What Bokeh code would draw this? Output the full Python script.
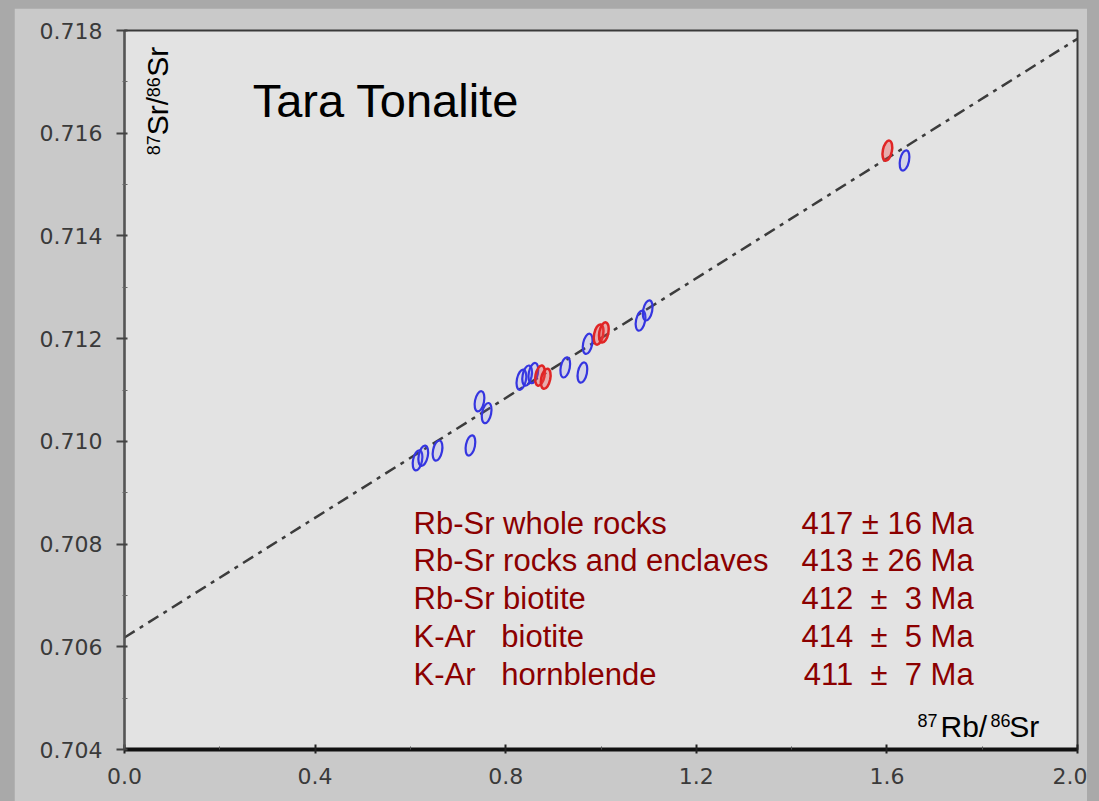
from bokeh.plotting import figure
from bokeh.models import FixedTicker, Label, NumeralTickFormatter
from bokeh.layouts import column
from bokeh.embed import file_html
from bokeh.resources import INLINE

# ---- data ----
blue_x = [0.615, 0.627, 0.657, 0.726, 0.745, 0.760, 0.833, 0.845, 0.858, 0.925, 0.961, 0.972, 1.083, 1.098, 1.637]
blue_y = [0.70963, 0.70972, 0.70982, 0.70992, 0.71078, 0.71055, 0.71120, 0.71128, 0.71133, 0.71144, 0.71134, 0.71190, 0.71235, 0.71255, 0.71547]
red_x = [0.872, 0.884, 0.995, 1.006, 1.601]
red_y = [0.71128, 0.71122, 0.71208, 0.71212, 0.71566]

iso_x = [0.0, 2.0]
iso_y = [0.70618, 0.71784]

x_ticks = [0.0, 0.4, 0.8, 1.2, 1.6, 2.0]
x_minor = [0.2, 0.6, 1.0, 1.4, 1.8]
y_ticks = [0.704, 0.706, 0.708, 0.710, 0.712, 0.714, 0.716, 0.718]
y_minor = [0.705, 0.707, 0.709, 0.711, 0.713, 0.715, 0.717]

methods = ["Rb-Sr whole rocks", "Rb-Sr rocks and enclaves", "Rb-Sr biotite", "K-Ar\u00a0\u00a0 biotite", "K-Ar\u00a0\u00a0 hornblende"]
ages = ["417 \u00b1 16 Ma", "413 \u00b1 26 Ma", "412\u00a0 \u00b1\u00a0 3 Ma", "414\u00a0 \u00b1\u00a0 5 Ma", "411\u00a0 \u00b1\u00a0 7 Ma"]
row_y = [0.70840, 0.70768, 0.70694, 0.70620, 0.70546]

title_text = "Tara Tonalite"

FONT = "Liberation Sans"
DARKRED = "#8b0000"

p = figure(width=1073, height=793, x_range=(0, 2.0), y_range=(0.704, 0.718),
           output_backend="svg", toolbar_location=None,
           min_border_left=110, min_border_right=10, min_border_top=22, min_border_bottom=52,
           background_fill_color="#e3e3e3", border_fill_color="#c9c9c9")
p.margin = (8, 12, 0, 14)
p.grid.visible = False
p.outline_line_color = "#3a3a3a"
p.outline_line_width = 2

# axes
p.xaxis.ticker = FixedTicker(ticks=x_ticks, minor_ticks=x_minor)
p.yaxis.ticker = FixedTicker(ticks=y_ticks, minor_ticks=y_minor)
p.xaxis.formatter = NumeralTickFormatter(format="0.0")
p.yaxis.formatter = NumeralTickFormatter(format="0.000")
for ax in (p.xaxis, p.yaxis):
    ax.major_label_text_font = "DejaVu Sans"
    ax.major_label_text_font_size = "22px"
    ax.major_label_text_color = "#3a3a3a"
p.xaxis.axis_line_color = "#111111"
p.xaxis.axis_line_width = 4
p.xaxis.major_tick_line_color = "#222222"
p.xaxis.major_tick_line_width = 2
p.xaxis.major_tick_in = 5
p.xaxis.major_tick_out = 4
p.xaxis.minor_tick_in = 3
p.xaxis.minor_tick_out = 0
p.xaxis.minor_tick_line_color = "#555555"
p.xaxis.major_label_standoff = 14
p.yaxis.axis_line_color = "#555555"
p.yaxis.axis_line_width = 2
p.yaxis.major_tick_line_color = "#444444"
p.yaxis.major_tick_line_width = 2
p.yaxis.major_tick_in = 3
p.yaxis.major_tick_out = 8
p.yaxis.minor_tick_in = 3
p.yaxis.minor_tick_out = 2
p.yaxis.minor_tick_line_color = "#666666"
p.yaxis.major_label_standoff = 14

# isochron
p.line(iso_x, iso_y, line_color="#3c3c3c", line_width=2.5, line_dash="12 6 4 6")

# error ellipses
p.ellipse(x=blue_x, y=blue_y, width=0.019, height=0.00040, angle=-0.2,
          line_color="#3535e0", line_width=2.2, fill_color="#7070ff", fill_alpha=0.12)
p.ellipse(x=red_x, y=red_y, width=0.019, height=0.00040, angle=-0.2,
          line_color="#e02525", line_width=2.5, fill_color="#ee4444", fill_alpha=0.35)

# title
p.add_layout(Label(x=0.269, y=0.71664, text=title_text, text_font=FONT,
                   text_font_size="47px", text_color="black", text_baseline="alphabetic"))

# age table
for m, a, yy in zip(methods, ages, row_y):
    p.add_layout(Label(x=0.6065, y=yy, text=m, text_font=FONT, text_font_size="31px",
                       text_color=DARKRED, text_baseline="alphabetic"))
    p.add_layout(Label(x=1.782, y=yy, text=a, text_font=FONT, text_font_size="31px",
                       text_color=DARKRED, text_baseline="alphabetic", text_align="right"))

# x axis label 87Rb/86Sr
xl = [("87", 1.6642, 0.70457, "18px"), ("Rb/", 1.7125, 0.70444, "30px"),
      ("86", 1.8174, 0.70457, "18px"), ("Sr", 1.857, 0.70444, "30px")]
for t, xx, yy, fs in xl:
    p.add_layout(Label(x=xx, y=yy, text=t, text_font=FONT, text_font_size=fs,
                       text_color="black", text_baseline="alphabetic"))

# y axis label 87Sr/86Sr (rotated)
yl = [("87", 0.0610, 0.71557, "18px"), ("Sr/", 0.0695, 0.71596, "30px"),
      ("86", 0.0610, 0.71670, "18px"), ("Sr", 0.0695, 0.71710, "30px")]
for t, xx, yy, fs in yl:
    p.add_layout(Label(x=xx, y=yy, text=t, text_font=FONT, text_font_size=fs,
                       text_color="black", text_baseline="alphabetic", angle=1.5708))

layout = column(p, styles={"background-color": "#a9a9a9"})

open("out.html", "w").write(file_html(layout, INLINE))
